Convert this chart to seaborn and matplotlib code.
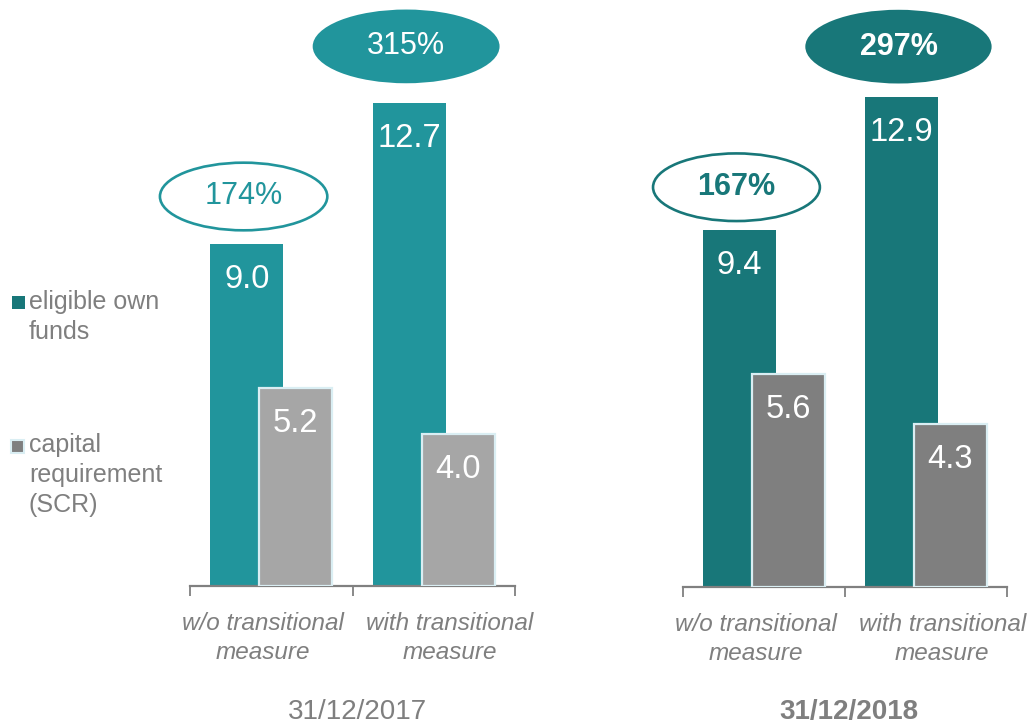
import matplotlib
matplotlib.use('Agg')
import pandas as pd
import matplotlib.pyplot as plt
import seaborn as sns
from matplotlib.patches import Ellipse, Rectangle

# chart data
categories = ['w/o transitional\nmeasure', 'with transitional\nmeasure']
series = ['eligible own funds', 'capital requirement (SCR)']
own_funds_2017 = [9.0, 12.7]
scr_2017 = [5.2, 4.0]
ratio_2017 = [174, 315]
own_funds_2018 = [9.4, 12.9]
scr_2018 = [5.6, 4.3]
ratio_2018 = [167, 297]
dates = ['31/12/2017', '31/12/2018']

TEAL_17 = '#21959C'
TEAL_18 = '#187779'
GRAY_17 = '#A6A6A6'
GRAY_18 = '#7F7F7F'
TXT = '#7F7F7F'
EDGE = '#DAEEF3'

sns.set_style('white')
plt.rcParams['font.family'] = ['Liberation Sans', 'DejaVu Sans']


def make_df(own, scr):
    rows = []
    for s, vals in zip(series, [own, scr]):
        for c, v in zip(categories, vals):
            rows.append({'measure': c, 'series': s, 'value': v})
    return pd.DataFrame(rows)


def panel(ax, own, scr, ratios, teal, gray, bold, lift):
    df = make_df(own, scr)
    sns.barplot(data=df, x='measure', y='value', hue='series', order=categories,
                hue_order=series, palette=[teal, gray], width=0.6, dodge=True,
                saturation=1, errorbar=None, legend=False, ax=ax)
    bars = ax.patches[:4]
    values = own + scr
    for i, (p, v) in enumerate(zip(bars, values)):
        cx = p.get_x() + p.get_width() / 2
        p.set_width(0.45)
        p.set_x(cx - 0.225)
        if i >= 2:
            p.set_edgecolor(EDGE)
            p.set_linewidth(1.6)
            p.set_zorder(3)
        else:
            p.set_linewidth(0)
            p.set_zorder(2)
        ax.annotate(f'{v:.1f}', (cx, v), xytext=(0, -25.5), textcoords='offset points',
                    ha='center', va='center', color='white', fontsize=23.5, zorder=5)

    # ratio ellipses above the own funds bars
    weight = 'bold' if bold else 'normal'
    for i, r in enumerate(ratios):
        p = bars[i]
        cx = p.get_x() + p.get_width() / 2 - 0.02
        v = own[i]
        if i == 0:
            cy, w, h = v + lift[0], 1.03, 1.78
            e = Ellipse((cx, cy), w, h, facecolor='white', edgecolor=teal, lw=1.9,
                        clip_on=False, zorder=4)
            tc = teal
        else:
            cy, w, h = v + lift[1], 1.15, 1.94
            e = Ellipse((cx, cy), w, h, facecolor=teal, edgecolor='none',
                        clip_on=False, zorder=4)
            tc = 'white'
        ax.add_patch(e)
        ax.text(cx, cy, f'{r}%', ha='center', va='center', color=tc, fontsize=22,
                fontweight=weight, zorder=5)

    ax.set_xlim(-0.5, 1.5)
    ax.set_ylim(0, 15)
    ax.set_yticks([])
    ax.set_xlabel('')
    ax.set_ylabel('')
    for s in ['top', 'left', 'right']:
        ax.spines[s].set_visible(False)
    ax.spines['bottom'].set_color('#808080')
    ax.spines['bottom'].set_linewidth(1.6)
    ax.set_xticks([-0.5, 0.5, 1.5], minor=True)
    ax.set_xticks([-0.05, 1.1])
    ax.set_xticklabels(categories, fontsize=17.5, style='italic', color=TXT,
                       linespacing=1.34)
    ax.tick_params(axis='x', which='major', length=0, pad=18.5)
    ax.tick_params(axis='x', which='minor', bottom=True, length=7, width=1.3,
                   color='#808080', direction='out')


fig = plt.figure(figsize=(10.32, 7.25), dpi=100)
ax1 = fig.add_axes([190 / 1032, 139 / 725, 325 / 1032, 570 / 725])
ax2 = fig.add_axes([683 / 1032, 138 / 725, 324 / 1032, 570 / 725])

panel(ax1, own_funds_2017, scr_2017, ratio_2017, TEAL_17, GRAY_17, False, (1.25, 1.5))
panel(ax2, own_funds_2018, scr_2018, ratio_2018, TEAL_18, GRAY_18, True, (1.12, 1.32))

fig.text(357 / 1032, 1 - 712 / 725, dates[0], ha='center', va='center',
         fontsize=20, color=TXT)
fig.text(849 / 1032, 1 - 712 / 725, dates[1], ha='center', va='center',
         fontsize=20, color=TXT, fontweight='bold')

# legend drawn by hand
fig.add_artist(Rectangle((12 / 1032, 1 - 309 / 725), 13 / 1032, 13 / 725,
                         transform=fig.transFigure, facecolor=TEAL_18, edgecolor='none'))
fig.add_artist(Rectangle((11 / 1032, 1 - 453 / 725), 13 / 1032, 13 / 725,
                         transform=fig.transFigure, facecolor=GRAY_18, edgecolor=EDGE,
                         lw=1.5))
fig.text(29 / 1032, 1 - 317 / 725, 'eligible own\nfunds', ha='left', va='center',
         fontsize=18, color=TXT, linespacing=1.34)
fig.text(29 / 1032, 1 - 475 / 725, 'capital\nrequirement\n(SCR)', ha='left',
         va='center', fontsize=18, color=TXT, linespacing=1.34)

fig.savefig('out.png', dpi=100)
